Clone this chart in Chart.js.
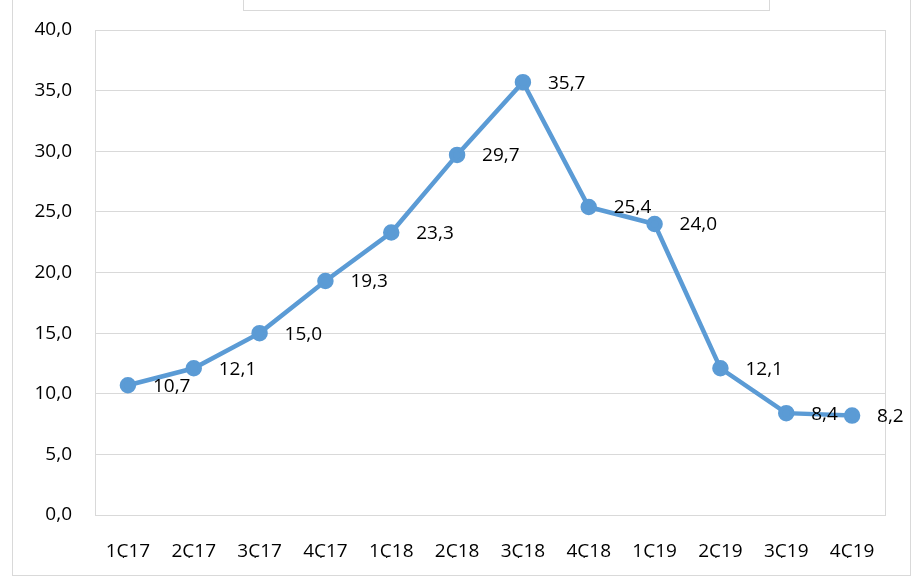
<!DOCTYPE html>
<html>
<head>
<meta charset="utf-8">
<script src="https://cdn.jsdelivr.net/npm/chart.js@4"></script>
<style>
  body { margin: 0; background: #fff; }
  #wrap { position: relative; width: 915px; height: 578px; }
  #frame { position: absolute; left: 12px; top: -1px; width: 897px; height: 575px; border: 1px solid #d9d9d9; }
  #legendBox { position: absolute; left: 243px; top: -1px; width: 525px; height: 10px; border: 1px solid #d9d9d9; }
  canvas { position: absolute; left: 0; top: 0; }
</style>
</head>
<body>
<div id="wrap">
  <div id="frame"></div>
  <div id="legendBox"></div>
  <canvas id="chart" width="915" height="578"></canvas>
</div>
<script>
// ---- data ---- //
const quarters = ["1Ç17", "2Ç17", "3Ç17", "4Ç17", "1Ç18", "2Ç18", "3Ç18", "4Ç18", "1Ç19", "2Ç19", "3Ç19", "4Ç19"];
const values = [10.7, 12.1, 15.0, 19.3, 23.3, 29.7, 35.7, 25.4, 24.0, 12.1, 8.4, 8.2];
const yTicks = [0, 5, 10, 15, 20, 25, 30, 35, 40];

const fmt = v => v.toFixed(1).replace(".", ",");
const FONT = "'Open Sans', 'Noto Sans', sans-serif";

// value labels to the right of each point
const pointLabels = {
    id: "pointLabels",
    afterDatasetsDraw(chart) {
        const c = chart.ctx;
        const meta = chart.getDatasetMeta(0);
        c.save();
        c.font = "19px " + FONT;
        c.fillStyle = "#000";
        c.textAlign = "left";
        c.textBaseline = "middle";
        meta.data.forEach((pt, i) => {
            c.fillText(fmt(values[i]), pt.x + 25, pt.y + 1);
        });
        c.restore();
    }
};

// light border round the plot area
const plotBorder = {
    id: "plotBorder",
    beforeDatasetsDraw(chart) {
        const a = chart.chartArea;
        const c = chart.ctx;
        c.save();
        c.strokeStyle = "#d9d9d9";
        c.lineWidth = 1;
        c.strokeRect(Math.round(a.left) + 0.5, Math.round(a.top) + 0.5, Math.round(a.right - a.left), Math.round(a.bottom - a.top));
        c.restore();
    }
};

new Chart(document.getElementById("chart"), {
    type: "line",
    data: {
        labels: quarters,
        datasets: [{
            data: values,
            borderColor: "#5b9bd5",
            backgroundColor: "#5b9bd5",
            borderWidth: 4.5,
            pointRadius: 6,
            pointHoverRadius: 6,
            tension: 0,
            fill: false
        }]
    },
    options: {
        responsive: false,
        animation: false,
        layout: { padding: { left: 20, right: 30, top: 30, bottom: 20 } },
        plugins: { legend: { display: false }, tooltip: { enabled: false } },
        scales: {
            x: {
                offset: true,
                grid: { display: false },
                border: { display: false },
                ticks: { color: "#000", font: { family: FONT, size: 19 }, padding: 17, maxRotation: 0, autoSkip: false },
                afterFit(s) { s.height = 43; s.paddingLeft = 0; s.paddingRight = 0; }
            },
            y: {
                min: 0,
                max: 40,
                afterBuildTicks(s) { s.ticks = yTicks.map(v => ({ value: v })); },
                grid: { color: "#d9d9d9", drawTicks: false },
                border: { display: false },
                ticks: { color: "#000", font: { family: FONT, size: 19 }, padding: 23, callback: v => fmt(v) },
                afterFit(s) { s.width = 75; s.paddingTop = 0; s.paddingBottom = 0; }
            }
        }
    },
    plugins: [plotBorder, pointLabels]
});
</script>
</body>
</html>
